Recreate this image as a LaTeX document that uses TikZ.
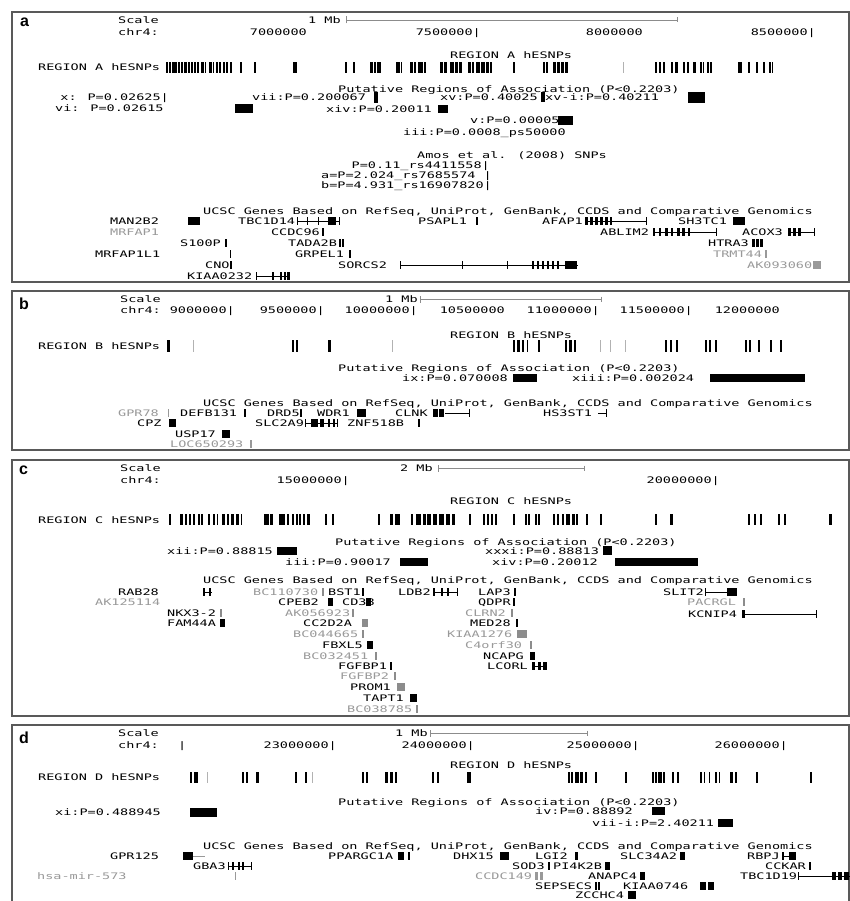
\documentclass[tikz,border=0pt]{standalone}
\usepackage{fontspec}
\setsansfont{Liberation Sans}
\newfontfamily\gbfont[FakeStretch=1.5]{DejaVu Sans Mono}
\usetikzlibrary{arrows.meta}

\begin{document}
\begin{tikzpicture}[x=1pt, y=-1pt,
    lbl/.style={font=\gbfont\fontsize{9}{9}\selectfont, inner sep=0pt, text height=6.6pt, text depth=0pt, anchor=west},
    lblr/.style={lbl, anchor=east},
    pale/.style={text=black!40},
    tag/.style={font=\sffamily\bfseries\fontsize{16}{16}\selectfont, inner sep=0pt, anchor=west},
    panel/.style={draw=black!65, line width=1.3pt},
    scalebar/.style={black!45, line width=0.6pt, {Bar[width=7pt]}-{Bar[width=5pt]}},
    intron/.style={line width=0.6pt}]

\useasboundingbox (0,0) rectangle (850,901);
\fill[white] (0,0) rectangle (850,901);

% ---------------- panel a
\draw[panel] (12,12) rectangle (849,282);
\node[tag] (a-tag) at (20,22) {a};
\node[lbl] (a-scale) at (118,20) {Scale};
\node[lbl] (a-chr) at (118,32) {chr4:};
\node[lbl] (a-mb) at (308,20) {1 Mb};
\coordinate (a-bar0) at (346,20);
\coordinate (a-bar1) at (678,20);
\draw[scalebar] (a-bar0) -- (a-bar1);
\node[lblr] (a-t1) at (307,32) {7000000};
\node[lblr] (a-t2) at (481,32) {7500000|};
\node[lblr] (a-t3) at (643,32) {8000000};
\node[lblr] (a-t4) at (816,32) {8500000|};
\node[lbl] (a-head) at (450,55) {REGION A hESNPs};
\node[lbl] (a-track) at (38,67) {REGION A hESNPs};
\foreach \x/\w in {166/2, 169/2, 172/2.5, 175/2, 178/2, 181/2, 184/2.5, 188/1.5, 191/1.5, 194/2, 197/1.5,
    201/3, 205/1, 209/2.5, 213/1, 216/2, 219/1.5, 223/1.5, 226/1.5, 230/1.5, 240/1.5, 254/1.5, 293/4,
    345/2, 353/2, 370/2.5, 374/2, 377/4, 396/4, 401/1, 410/3, 414/2, 418/5, 424/1.5, 440/3, 444/3,
    450/4, 455/3, 459/3, 468/3, 472/2, 476/4, 481/4, 486/3, 490/2, 513/2, 543/2, 546/2, 553/3, 557/3,
    561/3, 565/3, 655/2, 659/2, 663/2, 671/2, 675/3, 683/2, 687/1.5, 693/3, 700/2, 703/1, 707/2,
    710/2, 738/4, 748/2, 756/2, 763/1.5, 769/2, 772/1}
  \fill (\x,62) rectangle ++(\w,11);
\fill[black!30] (623,62) rectangle ++(1,11);
\node[lbl] (a-put) at (338,89) {Putative Regions of Association (P<0.2203)};
\node[lblr] (a-r1) at (169,97) {x: P=0.02625|};
\node[lbl] (a-r2) at (55,108) {vi: P=0.02615};
\node[lbl] (a-r3) at (252,97) {vii:P=0.200067};
\node[lbl] (a-r4) at (326,109) {xiv:P=0.20011};
\node[lbl] (a-r5) at (440,97) {xv:P=0.40025};
\node[lbl] (a-r6) at (545,97) {xv-i:P=0.40211};
\node[lbl] (a-r7) at (470,120) {v:P=0.00005};
\node[lbl] (a-r8) at (403,132) {iii:P=0.0008\_ps50000};
\foreach \xa/\ya/\xb/\yb in {235/104/253/113, 374/92/378/103, 438/105/448/113, 541/92/545/102,
    688/92/705/103, 558/116/573/125}
  \fill (\xa,\ya) rectangle (\xb,\yb);
\node[lbl] (a-amos) at (417,155) {Amos et al. (2008) SNPs};
\node[lblr] (a-s1) at (490,165) {P=0.11\_rs4411558|};
\node[lblr] (a-s2) at (492,175) {a=P=2.024\_rs7685574 |};
\node[lblr] (a-s3) at (492,185) {b=P=4.931\_rs16907820|};
\node[lbl] (a-ucsc) at (203,211) {UCSC Genes Based on RefSeq, UniProt, GenBank, CCDS and Comparative Genomics};
% genes a
\node[lbl] (a-g1) at (110,221) {MAN2B2};
\node[lbl] (a-g2) at (238,221) {TBC1D14};
\node[lbl] (a-g3) at (418,221) {PSAPL1};
\node[lbl] (a-g4) at (542,221) {AFAP1};
\node[lbl] (a-g5) at (678,221) {SH3TC1};
\node[lbl, pale] (a-g6) at (110,232) {MRFAP1};
\node[lblr] (a-g7) at (320,232) {CCDC96};
\node[lbl] (a-g8) at (600,232) {ABLIM2};
\node[lbl] (a-g9) at (742,232) {ACOX3};
\node[lbl] (a-g10) at (180,243) {S100P};
\node[lbl] (a-g11) at (288,243) {TADA2B};
\node[lbl] (a-g12) at (708,243) {HTRA3};
\node[lbl] (a-g13) at (95,254) {MRFAP1L1};
\node[lbl] (a-g14) at (295,254) {GRPEL1};
\node[lbl, pale] (a-g15) at (713,254) {TRMT44};
\node[lbl] (a-g16) at (205,265) {CNO};
\node[lbl] (a-g17) at (338,265) {SORCS2};
\node[lbl, pale] (a-g18) at (747,265) {AK093060};
\node[lbl] (a-g19) at (187,276) {KIAA0232};
\foreach \xa/\xb/\y in {297/340/221, 585/647/221, 653/717/232, 788/815/232, 400/578/265, 256/290/276}
  \draw[intron] (\xa,\y) -- (\xb,\y);
\foreach \x/\y/\w in {188/221/12, 297/221/1.2, 307/221/1.2, 318/221/1.2, 328/221/8, 339/221/1.2, 476/221/2,
    585/221/3, 590/221/3, 595/221/3, 600/221/3, 605/221/3, 610/221/2, 646/221/1.2, 733/221/12,
    322/232/1.5, 653/232/2, 659/232/2, 665/232/2.5, 671/232/2, 677/232/3, 682/232/3, 688/232/2, 716/232/1.2,
    788/232/2.5, 793/232/2.5, 798/232/2.5, 814/232/1.2,
    225/243/2, 339/243/1.5, 342/243/1.5, 752/243/2.5, 756/243/2.5, 760/243/2.5,
    230/254/1, 349/254/2, 230/265/2, 400/265/1.2, 462/265/1.2, 507/265/1.2,
    532/265/2, 537/265/2, 542/265/2, 547/265/2, 552/265/2, 557/265/2, 565/265/12,
    256/276/1.2, 272/276/2, 280/276/2, 284/276/2, 287/276/3}
  \fill (\x,\y-4) rectangle ++(\w,8);
\foreach \x/\y/\w in {765/254/1.5, 813/265/8}
  \fill[black!40] (\x,\y-4) rectangle ++(\w,8);

% ---------------- panel b
\draw[panel] (12,291) rectangle (849,450);
\node[tag] (b-tag) at (19,304) {b};
\node[lbl] (b-scale) at (120,299) {Scale};
\node[lbl] (b-chr) at (120,310) {chr4:};
\node[lbl] (b-mb) at (385,299) {1 Mb};
\coordinate (b-bar0) at (420,299);
\coordinate (b-bar1) at (602,299);
\draw[scalebar] (b-bar0) -- (b-bar1);
\node[lblr] (b-t1) at (235,310) {9000000|};
\node[lblr] (b-t2) at (325,310) {9500000|};
\node[lblr] (b-t3) at (418,310) {10000000|};
\node[lblr] (b-t4) at (505,310) {10500000};
\node[lblr] (b-t5) at (600,310) {11000000|};
\node[lblr] (b-t6) at (693,310) {11500000|};
\node[lblr] (b-t7) at (780,310) {12000000};
\node[lbl] (b-head) at (450,335) {REGION B hESNPs};
\node[lbl] (b-track) at (38,346) {REGION B hESNPs};
\foreach \x/\w in {167/3, 292/2, 296/2, 328/3, 513/2, 517/2.5, 522/1.5, 527/1, 538/1.5, 565/2, 569/2.5,
    574/2, 665/2, 670/2, 676/1.5, 705/2, 709/1.5, 715/2, 745/2, 749/2, 758/1.5, 770/1.5, 780/1.5}
  \fill (\x,340) rectangle ++(\w,12);
\foreach \x in {193, 392, 600, 610, 625}
  \fill[black!30] (\x,340) rectangle ++(1,12);
\node[lbl] (b-put) at (338,368) {Putative Regions of Association (P<0.2203)};
\node[lbl] (b-r1) at (402,378) {ix:P=0.070008};
\node[lbl] (b-r2) at (572,378) {xiii:P=0.002024};
\fill (513,374) rectangle (537,382);
\fill (710,374) rectangle (805,382);
\node[lbl] (b-ucsc) at (203,403) {UCSC Genes Based on RefSeq, UniProt, GenBank, CCDS and Comparative Genomics};
% genes b
\node[lbl, pale] (b-g1) at (118,413) {GPR78};
\node[lbl] (b-g2) at (180,413) {DEFB131};
\node[lbl] (b-g3) at (267,413) {DRD5};
\node[lbl] (b-g4) at (317,413) {WDR1};
\node[lbl] (b-g5) at (395,413) {CLNK};
\node[lbl] (b-g6) at (543,413) {HS3ST1};
\node[lbl] (b-g7) at (137,423) {CPZ};
\node[lbl] (b-g8) at (255,423) {SLC2A9};
\node[lbl] (b-g9) at (347,423) {ZNF518B};
\node[lbl] (b-g10) at (175,434) {USP17};
\node[lbl, pale] (b-g11) at (170,444) {LOC650293};
\foreach \xa/\xb/\y in {445/470/413, 598/607/413, 305/338/423}
  \draw[intron] (\xa,\y) -- (\xb,\y);
\foreach \x/\y/\w in {244/413/2, 300/413/2, 357/413/9, 433/413/5, 439/413/5, 469/413/1.2, 606/413/1.2,
    169/423/7, 305/423/1.2, 311/423/7, 320/423/4, 328/423/2, 333/423/1.5, 337/423/1.2, 418/423/2,
    222/434/8}
  \fill (\x,\y-4) rectangle ++(\w,8);
\foreach \x/\y/\w in {168/413/1, 250/444/1.5}
  \fill[black!40] (\x,\y-4) rectangle ++(\w,8);

% ---------------- panel c
\draw[panel] (12,460) rectangle (849,716);
\node[tag] (c-tag) at (19,470) {c};
\node[lbl] (c-scale) at (120,468) {Scale};
\node[lbl] (c-chr) at (120,480) {chr4:};
\node[lbl] (c-mb) at (400,468) {2 Mb};
\coordinate (c-bar0) at (438,468);
\coordinate (c-bar1) at (585,468);
\draw[scalebar] (c-bar0) -- (c-bar1);
\node[lblr] (c-t1) at (350,480) {15000000|};
\node[lblr] (c-t2) at (720,480) {20000000|};
\node[lbl] (c-head) at (450,501) {REGION C hESNPs};
\node[lbl] (c-track) at (38,520) {REGION C hESNPs};
\foreach \x/\w in {169/1.5, 180/3, 185/2, 189/2, 193/2, 198/1.5, 201/1.5, 208/2, 213/2, 217/1, 222/3,
    227/2, 231/3, 236/3, 241/1, 264/5, 270/3, 279/6, 287/2, 292/2, 296/2, 299/2, 303/2, 307/3, 325/2,
    332/2, 378/1.5, 390/3, 395/5, 411/2, 416/5, 423/3, 427/4, 433/4, 439/5, 446/4, 452/3, 469/2, 483/2,
    487/2, 491/2, 495/2, 513/1.5, 525/2, 528/1.5, 535/1.5, 538/1.5, 553/2, 557/2, 562/2, 566/4, 572/3,
    576/1.5, 586/1.5, 600/1.5, 655/2, 670/2.5, 748/2, 754/2, 760/2, 778/2, 784/2, 829/3}
  \fill (\x,514) rectangle ++(\w,11);
\node[lbl] (c-put) at (335,542) {Putative Regions of Association (P<0.2203)};
\node[lbl] (c-r1) at (167,551) {xii:P=0.88815};
\node[lbl] (c-r2) at (485,551) {xxxi:P=0.88813};
\node[lbl] (c-r3) at (285,562) {iii:P=0.90017};
\node[lbl] (c-r4) at (492,562) {xiv:P=0.20012};
\foreach \xa/\ya/\xb/\yb in {277/547/297/555, 603/546/612/555, 400/558/428/566, 615/558/698/566}
  \fill (\xa,\ya) rectangle (\xb,\yb);
\node[lbl] (c-ucsc) at (203,580) {UCSC Genes Based on RefSeq, UniProt, GenBank, CCDS and Comparative Genomics};
% genes c
\node[lbl] (c-g1) at (118,592) {RAB28};
\node[lbl, pale] (c-g2) at (253,592) {BC110730};
\node[lbl] (c-g3) at (328,592) {BST1};
\node[lbl] (c-g4) at (398,592) {LDB2};
\node[lbl] (c-g5) at (478,592) {LAP3};
\node[lbl] (c-g6) at (663,592) {SLIT2};
\node[lbl, pale] (c-g7) at (95,602) {AK125114};
\node[lbl] (c-g8) at (278,602) {CPEB2};
\node[lbl] (c-g9) at (342,602) {CD38};
\node[lbl] (c-g10) at (478,602) {QDPR};
\node[lbl, pale] (c-g11) at (687,602) {PACRGL};
\node[lbl] (c-g12) at (167,613) {NKX3-2};
\node[lbl, pale] (c-g13) at (285,613) {AK056923};
\node[lbl, pale] (c-g14) at (465,613) {CLRN2};
\node[lbl] (c-g15) at (688,614) {KCNIP4};
\node[lbl] (c-g16) at (167,623) {FAM44A};
\node[lbl] (c-g17) at (303,623) {CC2D2A};
\node[lbl] (c-g18) at (470,623) {MED28};
\node[lbl, pale] (c-g19) at (293,634) {BC044665};
\node[lbl, pale] (c-g20) at (447,634) {KIAA1276};
\node[lbl] (c-g21) at (322,645) {FBXL5};
\node[lbl, pale] (c-g22) at (465,645) {C4orf30};
\node[lbl, pale] (c-g23) at (303,656) {BC032451};
\node[lbl] (c-g24) at (483,656) {NCAPG};
\node[lbl] (c-g25) at (338,666) {FGFBP1};
\node[lbl] (c-g26) at (487,666) {LCORL};
\node[lbl, pale] (c-g27) at (340,676) {FGFBP2};
\node[lbl] (c-g28) at (350,687) {PROM1};
\node[lbl] (c-g29) at (363,698) {TAPT1};
\node[lbl, pale] (c-g30) at (347,709) {BC038785};
\foreach \xa/\xb/\y in {203/212/592, 433/458/592, 705/737/592, 742/817/614, 532/547/666}
  \draw[intron] (\xa,\y) -- (\xb,\y);
\foreach \x/\y/\w in {203/592/2, 209/592/2, 362/592/2, 433/592/2, 441/592/2, 447/592/2, 457/592/1.2,
    514/592/2, 705/592/1.2, 727/592/10, 328/602/5, 366/602/5, 513/602/2, 742/614/3, 816/614/1.2,
    220/623/5, 516/623/2, 367/645/6, 530/656/5, 390/666/2, 532/666/3, 538/666/3, 543/666/4, 410/698/7}
  \fill (\x,\y-4) rectangle ++(\w,8);
\foreach \x/\y/\w in {220/613/1.5, 322/592/1.5, 743/602/1.5, 352/613/1.5, 511/613/1.5, 362/623/6,
    362/634/1.5, 517/634/10, 530/645/1.5, 375/656/1.5, 394/676/1.5, 397/687/8, 416/709/1.5}
  \fill[black!45] (\x,\y-4) rectangle ++(\w,8);

% ---------------- panel d
\draw[panel] (12,725) rectangle (849,915);
\node[tag] (d-tag) at (19,738) {d};
\node[lbl] (d-scale) at (118,733) {Scale};
\node[lbl] (d-chr) at (118,745) {chr4:};
\node[lbl] (d-t0) at (178,745) {|};
\node[lbl] (d-mb) at (395,733) {1 Mb};
\coordinate (d-bar0) at (430,733);
\coordinate (d-bar1) at (588,733);
\draw[scalebar] (d-bar0) -- (d-bar1);
\node[lblr] (d-t1) at (337,745) {23000000|};
\node[lblr] (d-t2) at (475,745) {24000000|};
\node[lblr] (d-t3) at (640,745) {25000000|};
\node[lblr] (d-t4) at (788,745) {26000000|};
\node[lbl] (d-head) at (450,765) {REGION D hESNPs};
\node[lbl] (d-track) at (38,777) {REGION D hESNPs};
\foreach \x/\w in {190/2, 194/4, 242/2, 246/2, 256/2.5, 295/2, 305/2, 362/2, 366/1.5, 385/3, 390/3,
    395/2, 432/2, 437/2, 467/4, 568/2, 571/2, 575/4, 580/3, 585/1.5, 595/1.5, 625/1.5, 652/2, 655/1.5,
    658/4, 663/1.5, 672/1.5, 677/2, 700/1.5, 704/1, 709/1, 715/2, 719/1, 730/3, 735/1.5, 756/2, 810/2}
  \fill (\x,772) rectangle ++(\w,11);
\foreach \x in {207, 312}
  \fill[black!30] (\x,772) rectangle ++(1,11);
\node[lbl] (d-put) at (338,802) {Putative Regions of Association (P<0.2203)};
\node[lbl] (d-r1) at (55,812) {xi:P=0.488945};
\node[lbl] (d-r2) at (535,811) {iv:P=0.88892};
\node[lbl] (d-r3) at (592,823) {vii-i:P=2.40211};
\foreach \xa/\ya/\xb/\yb in {190/808/217/817, 652/807/665/815, 718/819/733/827}
  \fill (\xa,\ya) rectangle (\xb,\yb);
\node[lbl] (d-ucsc) at (203,846) {UCSC Genes Based on RefSeq, UniProt, GenBank, CCDS and Comparative Genomics};
% genes d
\node[lbl] (d-g1) at (110,856) {GPR125};
\node[lbl] (d-g2) at (328,856) {PPARGC1A};
\node[lbl] (d-g3) at (453,856) {DHX15};
\node[lbl] (d-g4) at (535,856) {LGI2};
\node[lbl] (d-g5) at (620,856) {SLC34A2};
\node[lbl] (d-g6) at (747,856) {RBPJ};
\node[lbl] (d-g7) at (193,866) {GBA3};
\node[lbl] (d-g8) at (512,866) {SOD3};
\node[lbl] (d-g9) at (553,866) {PI4K2B};
\node[lbl] (d-g10) at (765,866) {CCKAR};
\node[lbl, pale] (d-g11) at (37,876) {hsa-mir-573};
\node[lbl, pale] (d-g12) at (475,876) {CCDC149};
\node[lbl] (d-g13) at (588,876) {ANAPC4};
\node[lbl] (d-g14) at (740,876) {TBC1D19};
\node[lbl] (d-g15) at (535,886) {SEPSECS};
\node[lbl] (d-g16) at (623,886) {KIAA0746};
\node[lbl] (d-g17) at (575,895) {ZCCHC4};
\draw[intron, black!40] (193,856) -- (205,856);
\foreach \xa/\xb/\y in {782/796/856, 228/252/866, 798/850/876}
  \draw[intron] (\xa,\y) -- (\xb,\y);
\foreach \x/\y/\w in {183/856/10, 398/856/6, 408/856/1.5, 500/856/9, 575/856/3, 680/856/5, 782/856/1.5,
    789/856/7, 228/866/1.2, 232/866/2, 238/866/2, 242/866/2, 251/866/1.2, 548/866/1.5, 605/866/5,
    809/866/2, 640/876/5, 798/876/1.2, 832/876/4, 838/876/4, 844/876/5, 595/886/1.5, 598/886/1.5,
    700/886/6, 708/886/6, 628/895/8}
  \fill (\x,\y-4) rectangle ++(\w,8);
\foreach \x/\y/\w in {235/876/1.2, 535/876/3, 540/876/3}
  \fill[black!40] (\x,\y-4) rectangle ++(\w,8);
\end{tikzpicture}
\end{document}
